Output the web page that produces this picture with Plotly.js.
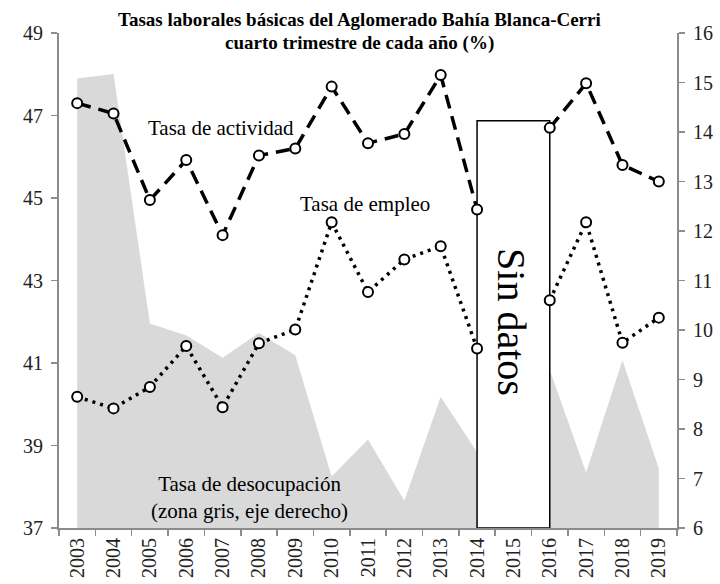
<!DOCTYPE html>
<html>
<head>
<meta charset="utf-8">
<script src="https://cdn.plot.ly/plotly-3.0.1.min.js"></script>
<style>html,body{margin:0;padding:0;background:#fff;}#chart{width:720px;height:584px;}</style>
</head>
<body>
<div id="chart"></div>
<script>
const years = ['2003','2004','2005','2006','2007','2008','2009','2010','2011','2012','2013','2014','2015','2016','2017','2018','2019'];
const tasaActividad = [47.3, 47.05, 44.95, 45.92, 44.1, 46.03, 46.2, 47.7, 46.33, 46.55, 47.98, 44.72, null, 46.7, 47.78, 45.8, 45.4];
const tasaEmpleo = [40.18, 39.9, 40.42, 41.41, 39.93, 41.48, 41.81, 44.41, 42.72, 43.51, 43.83, 41.35, null, 42.52, 44.41, 41.49, 42.1];
const tasaDesocupacion = [15.08, 15.17, 10.13, 9.89, 9.44, 9.94, 9.49, 7.04, 7.79, 6.55, 8.65, 7.53, null, 9.19, 7.12, 9.39, 7.2];
const sinDatosDesde = '2014';
const sinDatosHasta = '2016';
const sinDatosTope = 46.87;
const leftTicks = [37, 39, 41, 43, 45, 47, 49];
const rightTicks = [6, 7, 8, 9, 10, 11, 12, 13, 14, 15, 16];

const serif = 'Liberation Serif, Times New Roman, serif';
const axisGray = '#8c8c8c';

const traces = [
  {
    x: years, y: tasaDesocupacion, yaxis: 'y', type: 'scatter', mode: 'none',
    fill: 'tozeroy', fillcolor: '#d9d9d9', connectgaps: false, hoverinfo: 'skip', showlegend: false
  },
  {
    x: [sinDatosDesde, sinDatosDesde, sinDatosHasta, sinDatosHasta, sinDatosDesde],
    y: [leftTicks[0], sinDatosTope, sinDatosTope, leftTicks[0], leftTicks[0]],
    yaxis: 'y2', type: 'scatter', mode: 'lines', fill: 'toself', fillcolor: '#ffffff',
    line: {color: '#000', width: 1.5}, hoverinfo: 'skip', showlegend: false
  },
  {
    x: years, y: tasaActividad, yaxis: 'y2', type: 'scatter', mode: 'lines+markers',
    connectgaps: false, line: {color: '#000', width: 3.5, dash: '14px,8px'},
    marker: {symbol: 'circle', size: 10, color: '#fff', line: {color: '#000', width: 2}},
    showlegend: false, cliponaxis: false
  },
  {
    x: years, y: tasaEmpleo, yaxis: 'y2', type: 'scatter', mode: 'lines+markers',
    connectgaps: false, line: {color: '#000', width: 3.5, dash: '3px,5px'},
    marker: {symbol: 'circle', size: 10, color: '#fff', line: {color: '#000', width: 2}},
    showlegend: false, cliponaxis: false
  }
];

const annFont = {family: serif, size: 21, color: '#000'};
const titleFont = {family: serif, size: 19, color: '#000'};

function ann(text, x, y, font, extra) {
  return Object.assign({text: text, xref: 'paper', yref: 'paper', x: x, y: y,
    xanchor: 'center', yanchor: 'middle', showarrow: false, font: font}, extra || {});
}

const layout = {
  width: 720, height: 584,
  margin: {l: 59, r: 43, t: 33, b: 56},
  paper_bgcolor: '#fff', plot_bgcolor: '#fff',
  font: {family: serif, size: 20, color: '#222'},
  showlegend: false,
  xaxis: {
    type: 'category', categoryorder: 'array', categoryarray: years,
    range: [-0.5, years.length - 0.5],
    tickson: 'boundaries', ticks: 'outside', ticklen: 6, tickcolor: axisGray, tickwidth: 1.5,
    showline: true, linecolor: axisGray, linewidth: 2,
    showgrid: false, zeroline: false, tickangle: -90,
    tickfont: {family: serif, size: 20, color: '#222'}
  },
  yaxis: {
    side: 'right', range: [6, 16], tickvals: rightTicks,
    ticks: 'outside', ticklen: 6, tickcolor: axisGray, tickwidth: 1.5,
    showline: true, linecolor: axisGray, linewidth: 2,
    showgrid: false, zeroline: false, ticklabelstandoff: 4,
    tickfont: {family: serif, size: 20, color: '#222'}
  },
  yaxis2: {
    side: 'left', overlaying: 'y', range: [37, 49], tickvals: leftTicks,
    ticks: 'outside', ticklen: 6, tickcolor: axisGray, tickwidth: 1.5,
    showline: true, linecolor: axisGray, linewidth: 2,
    showgrid: false, zeroline: false, ticklabelstandoff: 4,
    tickfont: {family: serif, size: 20, color: '#222'}
  },
  annotations: [
    ann('<b>Tasas laborales básicas del Aglomerado Bahía Blanca-Cerri</b>', 0.487, 1.0263, titleFont),
    ann('<b>cuarto trimestre de cada año (%)</b>', 0.487, 0.9798, titleFont),
    ann('Tasa de actividad', 0.262, 0.808, annFont),
    ann('Tasa de empleo', 0.495, 0.655, annFont),
    ann('Tasa de desocupación<br>(zona gris, eje derecho)', 0.309, 0.062, annFont),
    ann('Sin datos', 0.733, 0.416, {family: serif, size: 40, color: '#000'}, {textangle: 90})
  ]
};

Plotly.newPlot('chart', traces, layout, {displayModeBar: false, staticPlot: true});
</script>
</body>
</html>
